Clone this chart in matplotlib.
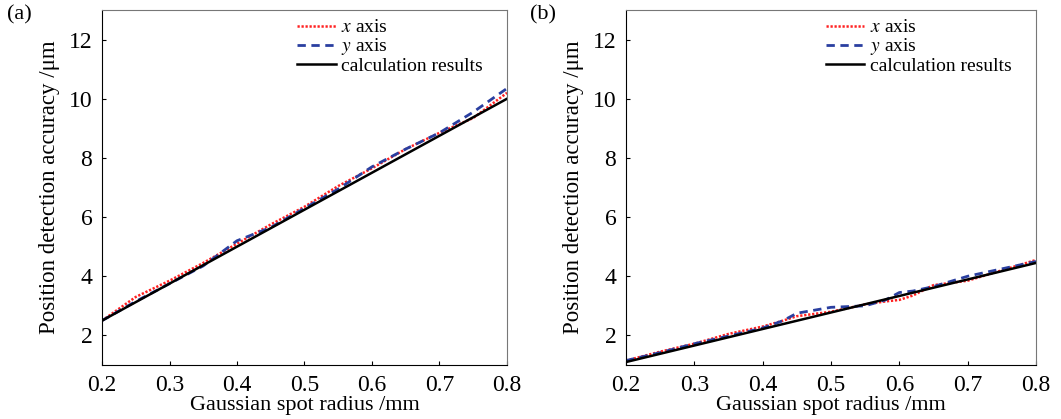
import numpy as np
import matplotlib.pyplot as plt

plt.rcParams['font.family'] = ['Liberation Serif', 'DejaVu Serif']
plt.rcParams['mathtext.fontset'] = 'stix'

# panel (a)
xa_r = [0.2, 0.25, 0.3, 0.35, 0.4, 0.45, 0.5, 0.55, 0.6, 0.65, 0.7, 0.75, 0.8]
xa_x = [2.5, 3.3, 3.85, 4.45, 5.1, 5.75, 6.35, 7.05, 7.65, 8.3, 8.85, 9.35, 10.2]
xa_y = [2.5, 3.15, 3.75, 4.35, 5.2, 5.65, 6.3, 6.95, 7.7, 8.3, 8.85, 9.55, 10.35]
calc_a = [2.5, 10.0]

# panel (b)
xb_r = [0.2, 0.25, 0.3, 0.35, 0.4, 0.43, 0.45, 0.5, 0.55, 0.58, 0.6, 0.62, 0.65, 0.7, 0.75, 0.8]
xb_x = [1.15, 1.45, 1.72, 2.05, 2.3, 2.5, 2.65, 2.8, 3.05, 3.15, 3.2, 3.35, 3.7, 3.85, 4.2, 4.55]
xb_y = [1.15, 1.42, 1.72, 1.98, 2.25, 2.5, 2.75, 2.95, 3.0, 3.2, 3.45, 3.5, 3.65, 4.0, 4.25, 4.5]
calc_b = [1.1, 4.45]

fig = plt.figure(figsize=(10.61, 4.19), dpi=100)
ax1 = fig.add_axes([102/1061, 54/419, 405/1061, 355/419])
ax2 = fig.add_axes([626/1061, 54/419, 410/1061, 355/419])

for ax, r, vx, vy, calc, tag in [(ax1, xa_r, xa_x, xa_y, calc_a, '(a)'),
                                  (ax2, xb_r, xb_x, xb_y, calc_b, '(b)')]:
    ax.plot(r, vx, linestyle=(0, (0.9, 0.7)), color='#ff2020', lw=1.8, label=r'$x$ axis')
    ax.plot(r, vy, linestyle=(0, (3, 2)), color='#2a3fa0', lw=2, label=r'$y$ axis')
    ax.plot([0.2, 0.8], calc, '-', color='black', lw=1.8, label='calculation results')
    ax.set_xlim(0.2, 0.8)
    ax.set_ylim(1, 13)
    ax.set_xticks([0.2, 0.3, 0.4, 0.5, 0.6, 0.7, 0.8])
    ax.set_yticks([2, 4, 6, 8, 10, 12])
    ax.tick_params(direction='in', labelsize=17, length=3, pad=7)
    for s in ['top', 'right']:
        ax.spines[s].set_color('#777777')
    ax.set_xlabel('Gaussian spot radius /mm', fontsize=16, labelpad=0)
    ax.set_ylabel('Position detection accuracy /μm', fontsize=16.5, labelpad=6)
    ax.legend(loc='upper right', frameon=False, fontsize=14, handlelength=2.0,
              handletextpad=0.3, labelspacing=0.0, borderaxespad=0.2,
              bbox_to_anchor=(0.97, 1.008))
    ax.text(-0.235, 0.985, tag, transform=ax.transAxes, fontsize=16, va='center')

fig.savefig('out.png', dpi=100)
